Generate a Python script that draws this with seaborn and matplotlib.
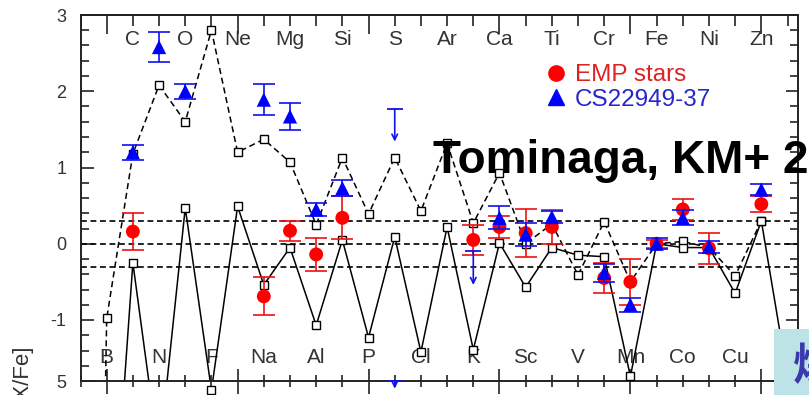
import numpy as np
import matplotlib
matplotlib.use("Agg")
import matplotlib.pyplot as plt
import seaborn as sns
from matplotlib.lines import Line2D
from matplotlib.patches import Rectangle
from matplotlib.ticker import MultipleLocator, FixedLocator

# ---- element labels (atomic number positions) ----
upper_elems = ["C", "O", "Ne", "Mg", "Si", "S", "Ar", "Ca", "Ti", "Cr", "Fe", "Ni", "Zn"]
upper_z = [6, 8, 10, 12, 14, 16, 18, 20, 22, 24, 26, 28, 30]
lower_elems = ["B", "N", "F", "Na", "Al", "P", "Cl", "K", "Sc", "V", "Mn", "Co", "Cu", "Ga"]
lower_z = [5, 7, 9, 11, 13, 15, 17, 19, 21, 23, 25, 27, 29, 31]

# ---- model yields: dashed curve ----
dashed_z = list(range(4, 31))
dashed_val = [-20.0, -0.98, 1.18, 2.08, 1.60, 2.80, 1.20, 1.37, 1.07, 0.25, 1.13, 0.39,
              1.13, 0.43, 1.32, 0.27, 0.93, 0.00, 0.26, -0.41, 0.29, -0.50, 0.00,
              0.03, -0.05, -0.42, 0.30]

# ---- model yields: solid curve ----
solid_z = [4] + list(range(6, 32))
solid_val = [-10.0, -0.25, -2.80, 0.47, -1.92, 0.49, -0.54, -0.05, -1.07, 0.05, -1.23,
             0.09, -1.42, 0.22, -1.39, 0.01, -0.57, -0.05, -0.15, -0.17, -1.74, 0.00,
             -0.05, -0.05, -0.65, 0.30, -1.75]

# ---- EMP stars (average) ----
emp_z = [6, 11, 12, 13, 14, 19, 20, 21, 22, 24, 25, 26, 27, 28, 30]
emp_val = [0.16, -0.69, 0.17, -0.14, 0.34, 0.05, 0.22, 0.14, 0.22, -0.45, -0.50, 0.00,
           0.45, -0.06, 0.52]
emp_err = [0.24, 0.25, 0.13, 0.22, 0.28, 0.20, 0.15, 0.31, 0.22, 0.20, 0.30, 0.05,
           0.14, 0.20, 0.10]

# ---- CS22949-37 ----
cs_z = [6, 7, 8, 11, 12, 13, 14, 20, 21, 22, 24, 25, 26, 27, 28, 30]
cs_val = [1.20, 2.58, 2.00, 1.89, 1.67, 0.45, 0.73, 0.34, 0.12, 0.35, -0.38, -0.80,
          0.00, 0.34, -0.04, 0.71]
cs_err = [0.10, 0.20, 0.10, 0.20, 0.18, 0.09, 0.10, 0.15, 0.15, 0.08, 0.12, 0.09,
          0.07, 0.10, 0.08, 0.07]
# upper limits
cs_lim_z = [16, 19, 16]
cs_lim_val = [1.77, -0.10, -1.80]
cs_lim_len = [0.43, 0.44, 0.10]

ytick_vals = [-1.8, -1, 0, 1, 2, 3]
ytick_labels = ["5", "-1", "0", "1", "2", "3"]
ref_levels = [0.3, 0.0, -0.3]

sns.set_theme(style="ticks")
plt.rcParams["font.family"] = ["Liberation Sans", "DejaVu Sans"]

fig = plt.figure(figsize=(8.09, 3.95), dpi=100)
ax = fig.add_axes([80.5 / 809, 1 - 381 / 395, 717.5 / 809, 366 / 395])
ax.set_xlim(4, 31.4)
ax.set_ylim(-1.8, 3.0)

# reference lines
for lv in ref_levels:
    ax.axhline(lv, color="black", lw=1.2, ls=(0, (3.5, 2.2)), zorder=1)

# model curves
sns.lineplot(x=dashed_z, y=dashed_val, ax=ax, color="black", lw=1.1,
             linestyle=(0, (4, 2.5)), zorder=2)
sns.lineplot(x=solid_z, y=solid_val, ax=ax, color="black", lw=1.1, zorder=2)
ax.plot(dashed_z, dashed_val, ls="none", marker="s", ms=5.5, mfc="white",
        mec="black", mew=1.0, zorder=3, clip_on=False)
ax.plot(solid_z, solid_val, ls="none", marker="s", ms=5.5, mfc="white",
        mec="black", mew=1.0, zorder=3, clip_on=False)

# EMP stars
ax.errorbar(emp_z, emp_val, yerr=emp_err, fmt="none", ecolor="#ee1111",
            elinewidth=1.2, capsize=8, capthick=1.2, zorder=4)
sns.scatterplot(x=emp_z, y=emp_val, ax=ax, marker="o", s=100, color="#ff0000",
                edgecolor="none", zorder=5)

# CS22949-37
ax.errorbar(cs_z, cs_val, yerr=cs_err, fmt="none", ecolor="#1111ee",
            elinewidth=1.2, capsize=8, capthick=1.2, zorder=6)
sns.scatterplot(x=cs_z, y=cs_val, ax=ax, marker="^", s=105, color="#0000ff",
                edgecolor="none", zorder=7)
for z, v, ln in zip(cs_lim_z, cs_lim_val, cs_lim_len):
    ax.plot([z], [v], marker="_", ms=12, mew=1.3, color="#1111ee", zorder=6,
            clip_on=False)
    ax.annotate("", xy=(z, v - ln), xytext=(z, v), zorder=6,
                arrowprops=dict(arrowstyle="->", color="#1111ee", lw=1.2,
                                shrinkA=0, shrinkB=0, mutation_scale=10),
                annotation_clip=False)

# element symbols
for el, z in zip(upper_elems, upper_z):
    ax.text(z, 0.932, el, transform=ax.get_xaxis_transform(), ha="center",
            va="center", fontsize=15, color="#333333", zorder=1)
for el, z in zip(lower_elems, lower_z):
    ax.text(z, 0.063, el, transform=ax.get_xaxis_transform(), ha="center",
            va="center", fontsize=15, color="#333333", zorder=1)

# axes, ticks
for sp in ax.spines.values():
    sp.set_visible(True)
    sp.set_linewidth(1.4)
    sp.set_color("#222222")
ax.yaxis.set_major_locator(FixedLocator(ytick_vals))
ax.set_yticklabels(ytick_labels)
ax.yaxis.set_minor_locator(MultipleLocator(0.2))
ax.xaxis.set_major_locator(MultipleLocator(5))
ax.xaxis.set_minor_locator(MultipleLocator(1))
ax.tick_params(axis="y", which="both", direction="in", left=True, right=True,
               labelsize=13, labelcolor="#333333", pad=10, width=1.2, color="#222222")
ax.tick_params(axis="y", which="major", length=9)
ax.tick_params(axis="y", which="minor", length=6)
ax.tick_params(axis="x", which="both", direction="inout", bottom=True, top=False,
               labelbottom=False, width=1.2, color="#222222")
ax.tick_params(axis="x", which="major", length=18)
ax.tick_params(axis="x", which="minor", length=8)
top = ax.secondary_xaxis("top")
top.xaxis.set_major_locator(MultipleLocator(5))
top.xaxis.set_minor_locator(MultipleLocator(1))
top.tick_params(which="both", direction="in", labeltop=False, width=1.2, color="#222222")
top.tick_params(which="major", length=14)
top.tick_params(which="minor", length=8)
top.spines["top"].set_linewidth(1.4)
ax.set_xlabel("")
ax.set_ylabel("")

# legend
handles = [Line2D([], [], ls="none", marker="o", ms=11, color="#ff0000"),
           Line2D([], [], ls="none", marker="^", ms=11, color="#0000ff")]
leg = ax.legend(handles, ["EMP stars", "CS22949-37"], loc="upper left",
                bbox_to_anchor=(0.647, 0.865), frameon=False, fontsize=17.5,
                handlelength=0.9, handletextpad=0.35, labelspacing=0.1,
                borderpad=0, borderaxespad=0)
leg.get_texts()[0].set_color("#dd2222")
leg.get_texts()[1].set_color("#2626cc")

fig.text(0.027, 1 - 374 / 395, "[X/Fe]", rotation=90, ha="center", va="center",
         fontsize=16, color="#333333")
fig.text(433 / 809, 1 - 173 / 395, "Tominaga, KM+ 2007", ha="left", va="baseline",
         fontsize=33, fontweight="bold", color="black", zorder=10)

fig.add_artist(Rectangle((774 / 809, 0), 0.1, (395 - 329) / 395,
                         transform=fig.transFigure, facecolor="#bde3e7",
                         edgecolor="none", zorder=8))
fig.text(793 / 809, 1 - 345 / 395, "爆発", ha="left", va="top", fontsize=32,
         fontweight="bold", color="#3a3aae", zorder=9,
         family=["Noto Sans CJK JP", "DejaVu Sans"])

fig.savefig("out.png", dpi=100)
